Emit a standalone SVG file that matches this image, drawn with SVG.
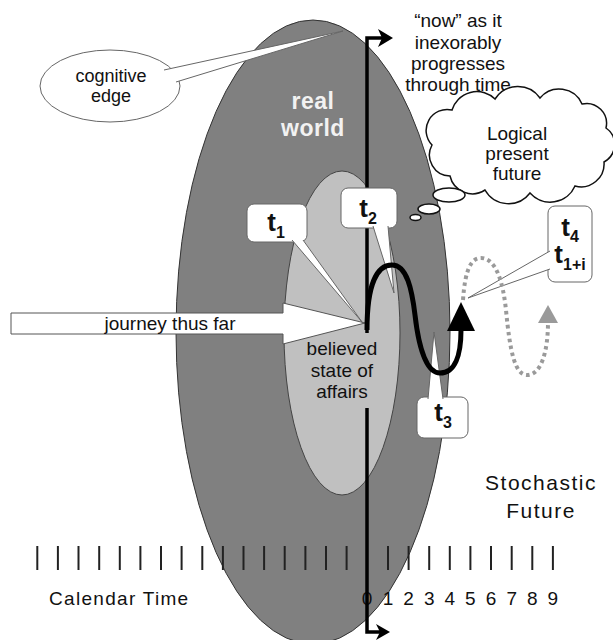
<svg xmlns="http://www.w3.org/2000/svg" width="613" height="640" viewBox="0 0 613 640">
<style>
text{font-family:"Liberation Sans",Arial,sans-serif;fill:#111;}
.lbl{font-size:19px;text-anchor:middle;}
.tl{font-size:26px;font-weight:bold;text-anchor:middle;}
.sub{font-size:16px;}
.box{fill:#fff;stroke:#666;stroke-width:1;}
.tail{fill:#fff;stroke:#666;stroke-width:1;}
.tick{stroke:#222;stroke-width:2;}
.dig{font-size:19px;text-anchor:middle;}
</style>
<rect width="613" height="640" fill="#fff"/>
<g id="real-world">
<ellipse cx="313" cy="332" rx="137" ry="312" fill="#808080" stroke="#333" stroke-width="1"/>
<text x="313" y="109" style="font-size:23px;font-weight:bold;text-anchor:middle;fill:#f2f2f2;letter-spacing:0.5px">real</text>
<text x="313" y="136" style="font-size:23px;font-weight:bold;text-anchor:middle;fill:#f2f2f2;letter-spacing:0.5px">world</text>
</g>
<g id="believed-state">
<ellipse cx="342" cy="333" rx="58" ry="162" fill="#c0c0c0" stroke="#444" stroke-width="1"/>
</g>
<g id="calendar-time">
<g class="tick">
<line x1="37.3" y1="546" x2="37.3" y2="570"/><line x1="57.9" y1="546" x2="57.9" y2="570"/><line x1="78.5" y1="546" x2="78.5" y2="570"/><line x1="99.2" y1="546" x2="99.2" y2="570"/><line x1="119.8" y1="546" x2="119.8" y2="570"/><line x1="140.4" y1="546" x2="140.4" y2="570"/><line x1="161" y1="546" x2="161" y2="570"/><line x1="181.6" y1="546" x2="181.6" y2="570"/><line x1="202.3" y1="546" x2="202.3" y2="570"/><line x1="222.9" y1="546" x2="222.9" y2="570"/><line x1="243.5" y1="546" x2="243.5" y2="570"/><line x1="264.1" y1="546" x2="264.1" y2="570"/><line x1="284.7" y1="546" x2="284.7" y2="570"/><line x1="305.4" y1="546" x2="305.4" y2="570"/><line x1="326" y1="546" x2="326" y2="570"/><line x1="346.6" y1="546" x2="346.6" y2="570"/><line x1="388" y1="546" x2="388" y2="570"/><line x1="408.6" y1="546" x2="408.6" y2="570"/><line x1="429.2" y1="546" x2="429.2" y2="570"/><line x1="449.8" y1="546" x2="449.8" y2="570"/><line x1="470.4" y1="546" x2="470.4" y2="570"/><line x1="491" y1="546" x2="491" y2="570"/><line x1="511.7" y1="546" x2="511.7" y2="570"/><line x1="532.3" y1="546" x2="532.3" y2="570"/><line x1="552.9" y1="546" x2="552.9" y2="570"/>
</g>
<text x="49" y="605" style="font-size:19px;letter-spacing:1.3px">Calendar Time</text>
<text class="dig" x="367" y="605">0</text><text class="dig" x="388" y="605">1</text><text class="dig" x="408.6" y="605">2</text><text class="dig" x="429.2" y="605">3</text><text class="dig" x="449.8" y="605">4</text><text class="dig" x="470.4" y="605">5</text><text class="dig" x="491" y="605">6</text><text class="dig" x="511.7" y="605">7</text><text class="dig" x="532.3" y="605">8</text><text class="dig" x="552.9" y="605">9</text>
</g>
<g id="connectors">
<path d="M367,333 V38 H384" fill="none" stroke="#000" stroke-width="3.5"/>
<path d="M378,29 L393,38 L378,47 L382,38 Z" fill="#000"/>
<path d="M367,408 V632 H382" fill="none" stroke="#000" stroke-width="3.5"/>
<path d="M376,624 L390,632 L376,640 L380,632 Z" fill="#000"/>
</g>
<g id="journey">
<polygon points="11,313 283,313 283,303 365,323 283,344 283,334 11,334" fill="#fff" stroke="#555" stroke-width="1"/>
<text x="170" y="330" style="font-size:19px;text-anchor:middle">journey thus far</text>
</g>
<g id="believed-label">
<text class="lbl" x="342" y="355">believed</text>
<text class="lbl" x="342" y="377">state of</text>
<text class="lbl" x="342" y="398">affairs</text>
</g>
<g id="cognitive-edge">
<ellipse cx="110" cy="86" rx="70" ry="36" fill="#fff" stroke="#666" stroke-width="1"/>
<path d="M164,70 L343,31 L176,82" class="tail"/>
<text x="111" y="82" style="font-size:18px;text-anchor:middle">cognitive</text>
<text x="111" y="102" style="font-size:18px;text-anchor:middle">edge</text>
</g>
<g id="now-label">
<text class="lbl" x="458" y="27">“now” as it</text>
<text class="lbl" x="458" y="48.5">inexorably</text>
<text class="lbl" x="458" y="69.6">progresses</text>
<text class="lbl" x="458" y="90.7">through time</text>
</g>
<g id="logical-present-future">
<path d="M432,145 A21,21 0 0 1 452,110 A26,26 0 0 1 495,99 A27,27 0 0 1 540,98 A25,25 0 0 1 582,104 A20,20 0 0 1 606,128 A20,20 0 0 1 604,162 A23,23 0 0 1 575,186 A27,27 0 0 1 530,193 A27,27 0 0 1 485,190 A23,23 0 0 1 450,176 A21,21 0 0 1 432,145 Z" fill="#fff" stroke="#111" stroke-width="1.5"/>
<ellipse cx="449" cy="195" rx="16" ry="7" fill="#fff" stroke="#111" stroke-width="1.5"/>
<ellipse cx="429" cy="209" rx="11" ry="5" fill="#fff" stroke="#111" stroke-width="1.5"/>
<ellipse cx="415.5" cy="217.5" rx="5.5" ry="3" fill="#fff" stroke="#111" stroke-width="1.5"/>
<text class="lbl" x="517" y="140">Logical</text>
<text class="lbl" x="517" y="160">present</text>
<text class="lbl" x="517" y="180">future</text>
</g>
<g id="t1">
<rect class="box" x="247" y="204" width="60" height="38" rx="7"/>
<path class="tail" d="M292,240 L362,322 L303,240"/>
<text class="tl" x="276" y="231">t<tspan class="sub" dy="7">1</tspan></text>
</g>
<g id="t2">
<rect class="box" x="341" y="188" width="56" height="40" rx="7"/>
<path class="tail" d="M373,226 L394,293 L388,226"/>
<text class="tl" x="368" y="217">t<tspan class="sub" dy="7">2</tspan></text>
</g>
<g id="t3">
<rect class="box" x="417" y="397" width="51" height="41" rx="7"/>
<path class="tail" d="M428,399 L434,332 L443,399"/>
<text class="tl" x="443" y="421">t<tspan class="sub" dy="7">3</tspan></text>
</g>
<g id="t4">
<rect class="box" x="548" y="206" width="44" height="76" rx="7"/>
<path class="tail" d="M550,251 L468,298 L550,269"/>
<text class="tl" x="570" y="236">t<tspan class="sub" dy="6">4</tspan></text>
<text class="tl" x="570" y="263">t<tspan class="sub" dy="7">1+i</tspan></text>
</g>
<g id="paths">
<path d="M367,330 C367,282 378,265 392,265 C407,265 412,290 415,315 C419,350 427,373 440,373 C455,373 461,355 461,330" fill="none" stroke="#000" stroke-width="5"/>
<polygon points="461,302 475,331 447,331" fill="#000"/>
<path d="M463,300 C465,270 471,258 481,258 C496,258 503,282 506,310 C510,352 515,375 527,375 C541,375 548,352 548,322" fill="none" stroke="#9a9a9a" stroke-width="4" stroke-dasharray="3.5 3.5"/>
<polygon points="548,305 558,323 538,323" fill="#9a9a9a"/>
</g>
<g id="stochastic">
<text x="541" y="490" style="font-size:21px;text-anchor:middle;letter-spacing:1.5px">Stochastic</text>
<text x="541" y="518" style="font-size:21px;text-anchor:middle;letter-spacing:1.5px">Future</text>
</g>
</svg>
